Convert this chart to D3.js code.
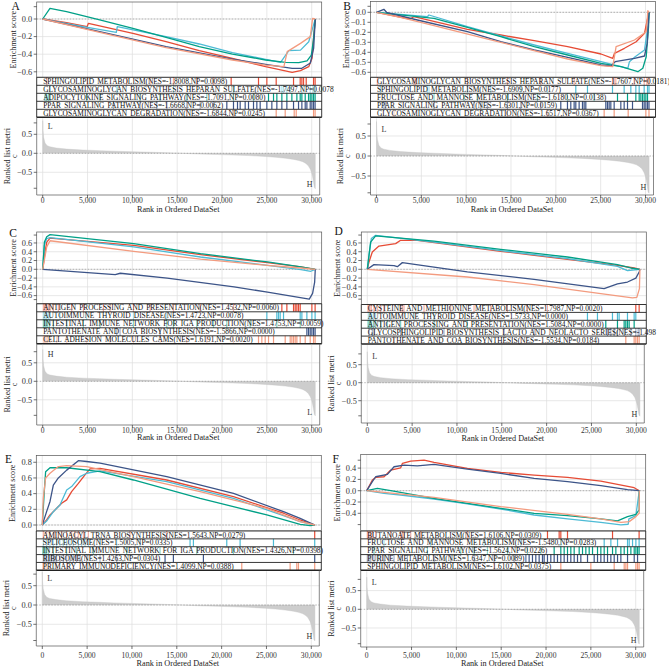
<!DOCTYPE html>
<html><head><meta charset="utf-8">
<script src="https://cdn.jsdelivr.net/npm/d3@7"></script>
<style>body{margin:0;background:#fff;}svg{display:block;}</style>
</head><body><svg id="c" width="669" height="668"></svg>
<script>
// ---------------- DATA ----------------
const seriesColors = ["#E64B35","#4DBBD5","#00A087","#3C5488","#F39B7F"];
const xTickValues = [0,5000,10000,15000,20000,25000,30000];
const xTickLabels = ["0","5,000","10,000","15,000","20,000","25,000","30,000"];
const rankedTickValues = [0.5,0,-0.5];
const rankedTickLabels = ["0.5","0.0","\u22120.5"];
const rankedExtraTicks = [0.8,-0.92];
// ranked list metric (rank, value)
const rankedMetric = [[0,0.86],[30,0.6],[100,0.42],[260,0.27],[500,0.2],[810,0.17],[1500,0.14],[2660,0.11],[4500,0.085],[6360,0.07],[8000,0.055],[10060,0.04],[12000,0.028],[13760,0.016],[15500,0.0],[17460,-0.02],[19500,-0.033],[21160,-0.045],[23000,-0.06],[24860,-0.085],[26000,-0.105],[27080,-0.13],[28000,-0.16],[28560,-0.19],[29000,-0.22],[29300,-0.26],[29600,-0.32],[29850,-0.42],[30000,-0.52],[30100,-0.62],[30200,-0.75],[30300,-0.9],[30400,-0.93]];

// Panel A
const termsA = ["SPHINGOLIPID METABOLISM(NES=-1.8008,NP=0.0098)","GLYCOSAMINOGLYCAN BIOSYNTHESIS HEPARAN SULFATE(NES=-1.7497,NP=0.0078)","ADIPOCYTOKINE SIGNALING PATHWAY(NES=-1.7091,NP=0.0080)","PPAR SIGNALING PATHWAY(NES=-1.6668,NP=0.0062)","GLYCOSAMINOGLYCAN DEGRADATION(NES=-1.6844,NP=0.0245)"];
const esTicksA = [0,-0.2,-0.4,-0.6];
const esExtraA = [0.14];
const esA = [
 [[0,0],[2660,-0.042],[4950,-0.087],[5100,-0.049],[10060,-0.163],[13760,-0.258],[17460,-0.36],[21160,-0.447],[24860,-0.542],[27820,-0.606],[28750,-0.587],[29670,-0.542],[30040,-0.447],[30190,-0.24],[30400,0]],
 [[0,0],[4510,-0.087],[8210,-0.152],[8320,-0.087],[13760,-0.2],[17460,-0.284],[21160,-0.383],[24860,-0.458],[26530,-0.492],[27450,-0.36],[28750,-0.354],[29670,-0.258],[30040,-0.125],[30400,0]],
 [[0,0],[810,0.121],[2660,0.083],[6360,-0.011],[10060,-0.106],[13760,-0.208],[17460,-0.314],[21160,-0.398],[24860,-0.466],[27080,-0.492],[28560,-0.496],[29480,-0.475],[29960,-0.41],[30190,-0.24],[30400,0]],
 [[0,0],[6360,-0.144],[13760,-0.314],[21160,-0.455],[24860,-0.515],[27820,-0.56],[28900,-0.56],[29850,-0.5],[30220,-0.33],[30400,0]],
 [[0,0],[6360,-0.152],[13760,-0.326],[21160,-0.466],[24860,-0.523],[26900,-0.542],[27270,-0.371],[28750,-0.277],[29850,-0.2],[30100,0.007],[30400,0]]
];
const hitsA = [
 [446,4985,9374,11978,14582,17186,19046,21018,24068,24998,26040,27974,28718,28904,29090,29388,30206,30380],
 [818,8258,8333,14582,21278,26672,26858,27230,27602,28904,29834,30132,30281,30380],
 [260,446,632,818,4910,6398,10862,13094,16070,18302,21278,23510,25184,25742,26114,26672,27230,27788,28346,28718,28904,29276,29648,29834,30020,30206,30380],
 [7886,10862,12722,13838,16070,17558,19046,20534,21278,21725,22022,22580,22952,23510,23882,24254,24998,25556,26114,26672,27230,27974,28532,28904,29276,29462,29834,30020,30206,30380],
 [2678,11978,16070,21278,26040,27044,28049,28272,30206,30380]
];

// Panel B
const termsB = ["GLYCOSAMINOGLYCAN BIOSYNTHESIS HEPARAN SULFATE(NES=-1.7607,NP=0.0181)","SPHINGOLIPID METABOLISM(NES=-1.6909,NP=0.0177)","FRUCTOSE AND MANNOSE METABOLISM(NES=-1.6180,NP=0.0138)","PPAR SIGNALING PATHWAY(NES=-1.6301,NP=0.0159)","GLYCOSAMINOGLYCAN DEGRADATION(NES=-1.6517,NP=0.0367)"];
const esTicksB = [0,-0.1,-0.2,-0.3,-0.4,-0.5,-0.6];
const esExtraB = [0.06];
const esB = [
 [[0,0],[3730,-0.067],[4170,-0.044],[10140,-0.17],[13860,-0.227],[17590,-0.284],[21320,-0.344],[25040,-0.417],[26350,-0.46],[26540,-0.41],[27650,-0.36],[28960,-0.294],[29890,-0.21],[30190,-0.077],[30400,0]],
 [[0,0],[5670,-0.044],[5850,-0.027],[10140,-0.144],[13860,-0.237],[17590,-0.327],[21320,-0.41],[25040,-0.494],[28030,-0.56],[28210,-0.494],[28770,-0.45],[29890,-0.377],[30260,-0.144],[30400,0]],
 [[0,0],[6410,-0.06],[10140,-0.15],[13860,-0.244],[17590,-0.344],[21320,-0.427],[25040,-0.51],[27280,-0.544],[29150,-0.594],[29700,-0.56],[30080,-0.444],[30340,-0.144],[30400,0]],
 [[0,0],[820,0.03],[1120,0.0],[4550,-0.077],[10140,-0.194],[13860,-0.294],[17590,-0.377],[21320,-0.45],[25040,-0.527],[26160,-0.537],[26610,-0.494],[28770,-0.46],[29890,-0.437],[30190,-0.31],[30400,0]],
 [[0,0],[2680,-0.05],[6410,-0.134],[13860,-0.3],[21320,-0.467],[25040,-0.534],[26350,-0.544],[26720,-0.344],[28770,-0.277],[30080,-0.194],[30260,0.016],[30400,0]]
];
const hitsB = [
 [93,4185,4371,10137,14601,18321,22041,26319,26505,26691,28737,29853,30151,30374],
 [465,5673,5859,10137,12741,16089,19065,22227,23529,26319,27621,28365,28923,29295,29853,30225,30390],
 [6417,9765,11253,14601,17949,21297,24273,26877,27993,28923,29295,29481,29667,29853,30039,30225],
 [837,1023,6417,10881,11625,12369,14601,16089,18321,20553,21297,21669,22041,22227,22599,22971,23157,23343,25575,25761,25947,26133,26505,27249,27621,27993,28551,29667,29853,30039,30225,30390],
 [1953,14601,19065,25389,26505,28068,30039,30390]
];

// Panel C
const termsC = ["ANTIGEN PROCESSING AND PRESENTATION(NES=1.4532,NP=0.0060)","AUTOIMMUNE THYROID DISEASE(NES=1.4723,NP=0.0078)","INTESTINAL IMMUNE NETWORK FOR IGA PRODUCTION(NES=1.4753,NP=0.0059)","PANTOTHENATE AND COA BIOSYNTHESIS(NES=-1.5866,NP=0.0000)","CELL ADHESION MOLECULES CAMS(NES=1.6191,NP=0.0020)"];
const esTicksC = [0.6,0.4,0.2,0,-0.2,-0.4,-0.6];
const esExtraC = [0.78,-0.69];
const esC = [
 [[0,0],[260,0.39],[450,0.62],[820,0.71],[10150,0.547],[17600,0.334],[25070,0.152],[28800,0.053],[30400,0]],
 [[0,0],[190,0.55],[450,0.70],[820,0.72],[10150,0.51],[17600,0.28],[25070,0.09],[28800,-0.008],[29900,-0.045],[30400,0]],
 [[0,0],[190,0.62],[450,0.74],[820,0.79],[10150,0.585],[17600,0.357],[25070,0.167],[28800,0.053],[30400,0]],
 [[0,0],[8090,-0.12],[8650,-0.09],[13880,-0.2],[21340,-0.4],[25070,-0.52],[29730,-0.68],[30100,-0.55],[30330,-0.29],[30400,0]],
 [[0,0],[75,0.09],[450,0.51],[820,0.65],[10150,0.41],[17600,0.23],[25070,0.09],[28800,0.03],[30400,0]]
];
const hitsC = [
 [74,149,260,372,446,632,818,1190,1748,3236,4538,6770,7514,10118,11978,14582,17558,21278,26672,27230,27974,28160,28346,28532,28718,30020,30380],
 [74,149,260,372,446,632,818,1934,4910,10118,13838,24998,26114,26300,26486,26858,28718,28904,29462,30020,30380],
 [74,149,223,335,446,558,744,1190,2678,4538,6398,10118,13838,14582,17186,19046,20534,23138,26114,28718],
 [8258,8630,13094,29462,29648,29834,30020,30206,30380],
 [74,186,298,446,558,818,1562,2678,4910,7514,10118,13094,16070,18302,21278,24068,24440,24812,25184,25742,27044,27602,27788,27974,28160,28346,28718,29276,29834,30206,30380]
];

// Panel D
const termsD = ["CYSTEINE AND METHIONINE METABOLISM(NES=1.7987,NP=0.0020)","AUTOIMMUNE THYROID DISEASE(NES=1.5733,NP=0.0000)","ANTIGEN PROCESSING AND PRESENTATION(NES=1.5084,NP=0.0000)","GLYCOSPHINGOLIPID BIOSYNTHESIS LACTO AND NEOLACTO SERIES(NES=-1.498","PANTOTHENATE AND COA BIOSYNTHESIS(NES=-1.5534,NP=0.0184)"];
const esTicksD = [0.6,0.4,0.2,0,-0.2,-0.4,-0.6];
const esExtraD = [0.78,-0.68];
const esD = [
 [[0,0],[190,0.167],[560,0.395],[1300,0.53],[3160,0.585],[3720,0.66],[5580,0.66],[14880,0.41],[22320,0.228],[27900,0.09],[29760,0.03],[30400,0]],
 [[0,0],[190,0.32],[450,0.70],[930,0.775],[7440,0.62],[14880,0.425],[22320,0.243],[27900,0.068],[29020,-0.03],[30400,0]],
 [[0,0],[370,0.62],[930,0.76],[7440,0.64],[14880,0.456],[22320,0.28],[27900,0.106],[29390,0.03],[30400,0]],
 [[0,0],[740,0.106],[2980,0.083],[3350,0.06],[3910,0.152],[11160,-0.06],[18600,-0.228],[26410,-0.44],[27900,-0.334],[29020,-0.29],[29950,-0.2],[30320,-0.06],[30400,0]],
 [[0,0],[11160,-0.175],[18600,-0.35],[26040,-0.554],[29570,-0.653],[30060,-0.64],[30350,-0.44],[30400,0]]
];
const hitsD = [
 [74,186,298,446,744,1116,1488,1860,3720,3906,4092,6324,9300,11904,13764,15624,17856,20088,29946,30318],
 [112,186,260,372,484,670,930,2604,5208,7440,24552,25668,27342,27900,28086,29016,29760,29946],
 [74,149,223,298,372,446,670,930,1488,2232,3720,7440,11160,26598,27900,28644,28830,29016,29202,29760],
 [186,558,744,3720,3906,8556,15252,18600,26784,27156,27528,27900,28644,29388,29946,30206,30318],
 [2976,5580,17112,28830,29760,29946,30132,30318]
];

// Panel E
const termsE = ["AMINOACYL TRNA BIOSYNTHESIS(NES=1.5643,NP=0.0279)","SPLICEOSOME(NES=1.5005,NP=0.0335)","INTESTINAL IMMUNE NETWORK FOR IGA PRODUCTION(NES=1.4326,NP=0.0398)","RIBOSOME(NES=1.4263,NP=0.0304)","PRIMARY IMMUNODEFICIENCY(NES=1.4099,NP=0.0388)"];
const esTicksE = [0.8,0.6,0.4,0.2,0];
const esExtraE = [];
const esE = [
 [[0,0],[480,0.064],[860,0.128],[1600,0.213],[2160,0.277],[2720,0.32],[3270,0.425],[4020,0.53],[4760,0.64],[5320,0.715],[6440,0.723],[13880,0.574],[21320,0.362],[26900,0.15],[28760,0.064],[30400,0]],
 [[0,0],[480,0.05],[1230,0.17],[1970,0.255],[2720,0.447],[3270,0.49],[4200,0.617],[4950,0.66],[6440,0.69],[13880,0.553],[21320,0.34],[26900,0.12],[28760,0.043],[30400,0]],
 [[0,0],[220,0.425],[370,0.68],[860,0.73],[2720,0.73],[6440,0.68],[10160,0.574],[17600,0.34],[25040,0.128],[28760,0.009],[29870,-0.009],[30400,0]],
 [[0,0],[480,0.17],[860,0.30],[1230,0.51],[1790,0.60],[2720,0.70],[4020,0.82],[4950,0.81],[6440,0.79],[13880,0.617],[21320,0.404],[26900,0.17],[28760,0.085],[30400,0]],
 [[0,0],[110,0.34],[370,0.6],[860,0.66],[1790,0.745],[2720,0.757],[4950,0.745],[10160,0.617],[17600,0.425],[25040,0.213],[28760,0.043],[30400,0]]
];
const hitsE = [
 [112,484,856,1414,1786,2158,2716,3274,3646,4018,4576,5134,9784,13876,30380],
 [112,484,856,1228,1600,1972,2344,2716,3088,3460,4018,4390,4762,5134,6436,8296,10900,16480,16852,20572,22060,25780,30380],
 [37,112,186,260,335,484,670,1228,2716,3832,5692,9412,13132,17224,21316,28012],
 [112,298,484,670,856,1042,1228,1414,1600,1972,2344,2716,3088,3460,3832,4204,4948,6436,8296,13690,14620,17968,30380],
 [37,112,186,298,484,856,1600,2716,4948,7552,22246,27640,28384,28570,30380]
];

// Panel F
const termsF = ["BUTANOATE METABOLISM(NES=1.6106,NP=0.0309)","FRUCTOSE AND MANNOSE METABOLISM(NES=-1.5480,NP=0.0283)","PPAR SIGNALING PATHWAY(NES=-1.5624,NP=0.0226)","PURINE METABOLISM(NES=1.6347,NP=0.0089)","SPHINGOLIPID METABOLISM(NES=-1.6102,NP=0.0375)"];
const esTicksF = [0.4,0.2,0,-0.2,-0.4];
const esExtraF = [0.54,-0.6];
const esF = [
 [[0,0],[630,0.188],[1000,0.235],[1930,0.247],[2680,0.365],[3790,0.406],[3980,0.482],[4910,0.524],[6400,0.541],[7510,0.5],[11230,0.394],[14950,0.324],[18670,0.276],[22400,0.235],[26110,0.17],[29830,0.053],[30400,0]],
 [[0,0],[1930,-0.047],[3790,-0.076],[7510,-0.147],[11230,-0.235],[14950,-0.324],[18670,-0.43],[22400,-0.5],[26110,-0.559],[28350,-0.606],[29160,-0.594],[29240,-0.5],[30020,-0.441],[30400,0]],
 [[0,0],[1190,0.041],[2680,0],[7510,-0.135],[11230,-0.224],[14950,-0.312],[18670,-0.4],[22400,-0.441],[26110,-0.5],[27970,-0.535],[29090,-0.459],[30020,-0.418],[30390,-0.341],[30400,0]],
 [[0,0],[630,0.159],[1000,0.247],[2310,0.288],[3050,0.424],[4170,0.453],[5650,0.441],[7510,0.465],[11230,0.382],[14950,0.306],[18670,0.218],[22400,0.159],[26110,0.088],[29090,0.018],[30400,0]],
 [[0,0],[7510,-0.118],[14950,-0.282],[22400,-0.418],[26110,-0.5],[28350,-0.559],[29280,-0.547],[30020,-0.459],[30390,-0.4],[30400,0]]
];
const hitsF = [
 [74,260,446,632,1004,2678,3794,3980,4166,4910,6026,11234,20162,21464,21650,22394,27416,30380],
 [1934,7142,13094,17186,21650,23882,26486,27230,27974,29090,29276,29648,30020,30380],
 [818,6770,10490,11978,13466,15698,17930,19418,20906,21650,22022,22394,22766,23138,23696,24068,24440,24812,25184,25742,26114,26486,26858,27416,27788,28346,28718,29090,29462,29834,30020,30206,30380],
 [74,260,446,818,1190,1562,1934,2492,3050,3794,4538,5654,7514,9374,11978,14210,16442,17744,18116,18488,18860,19232,19604,19790,20162,20534,20906,21278,21650,22022,22394,22766,23138,23510,23882,24626,25370,25742,26114,26486,26858,27230,27602,27974,28346,29090,29834,30206],
 [1934,8630,14210,17186,21650,24998,27602,28718,28904,29090,30020,30206,30380]
];

// ---------------- LAYOUT ----------------
const layout = {
 A:{x0:42.7, lblX:11.5, lblY:10.3, esTop:2, esBot:77.3, rowsBot:117.3, rkBot:195, esZero:19, esUnit:88, rkZero:153.3, rkUnit:38, tickY:203, titleY:211.5, clip:[0,0,334,222], top:"L", bot:"H"},
 B:{x0:376.5, lblX:343.3, lblY:9.6, esTop:1.5, esBot:77.3, rowsBot:117.3, rkBot:195, esZero:12.3, esUnit:100, rkZero:156, rkUnit:40, tickY:203, titleY:211.5, clip:[334,0,669,222], top:"L", bot:"H"},
 C:{x0:42.7, lblX:9.3, lblY:237, esTop:232, esBot:303.8, rowsBot:343.8, rkBot:425, esZero:269.3, esUnit:43.9, rkZero:381.3, rkUnit:37, tickY:432.5, titleY:440, clip:[0,222,326,445], top:"H", bot:"L"},
 D:{x0:367.3, lblX:334.5, lblY:234.5, esTop:232, esBot:304.5, rowsBot:344, rkBot:423, esZero:269.3, esUnit:43.9, rkZero:382.7, rkUnit:36, tickY:432.5, titleY:440.5, clip:[326,222,669,445], top:"L", bot:"H"},
 E:{x0:42.3, lblX:5, lblY:463, esTop:455.5, esBot:531, rowsBot:570.3, rkBot:646, esZero:525, esUnit:78.4, rkZero:605, rkUnit:38.6, tickY:657.5, titleY:666, clip:[0,445,326,668], top:"L", bot:"H"},
 F:{x0:366.7, lblX:332.5, lblY:463, esTop:454.5, esBot:531, rowsBot:570.3, rkBot:647, esZero:490.7, esUnit:56.5, rkZero:609.3, rkUnit:37.4, tickY:657.5, titleY:666, clip:[326,445,669,668], top:"L", bot:"H"}
};
const panels = [
 {id:"A", terms:termsA, es:esA, hits:hitsA, ticks:esTicksA, extra:esExtraA},
 {id:"B", terms:termsB, es:esB, hits:hitsB, ticks:esTicksB, extra:esExtraB},
 {id:"C", terms:termsC, es:esC, hits:hitsC, ticks:esTicksC, extra:esExtraC},
 {id:"D", terms:termsD, es:esD, hits:hitsD, ticks:esTicksD, extra:esExtraD},
 {id:"E", terms:termsE, es:esE, hits:hitsE, ticks:esTicksE, extra:esExtraE},
 {id:"F", terms:termsF, es:esF, hits:hitsF, ticks:esTicksF, extra:esExtraF}
];

// ---------------- DRAW ----------------
const FONT = '"Liberation Serif","Times New Roman",Times,serif';
const svg = d3.select("#c").style("font-family", FONT);
svg.append("rect").attr("width",669).attr("height",668).attr("fill","#fff");
const defs = svg.append("defs");
const GRID = "#dedede", AXIS = "#333";
const fmt = d3.format(".1f");

panels.forEach(p => {
  const L = layout[p.id];
  const [cx0, cy0, cx1, cy1] = L.clip;
  defs.append("clipPath").attr("id","clip"+p.id).append("rect")
    .attr("x",cx0).attr("y",cy0).attr("width",cx1-cx0).attr("height",cy1-cy0);
  const g = svg.append("g").attr("clip-path",`url(#clip${p.id})`);

  const x = d3.scaleLinear().domain([0,30000]).range([L.x0, L.x0+269]);
  const left = L.x0-6, right = L.x0+279, rkRight = L.x0+277;
  const yES = d3.scaleLinear().domain([0,1]).range([L.esZero, L.esZero-L.esUnit]);
  const yRk = d3.scaleLinear().domain([0,1]).range([L.rkZero, L.rkZero-L.rkUnit]);

  // ---- ES panel ----
  const es = g.append("g");
  es.selectAll(".vg").data(xTickValues).join("line")
    .attr("x1",d=>x(d)).attr("x2",d=>x(d)).attr("y1",L.esTop).attr("y2",L.esBot)
    .attr("stroke",GRID).attr("stroke-width",0.7);
  es.selectAll(".hg").data(p.ticks).join("line")
    .attr("x1",left).attr("x2",right).attr("y1",d=>yES(d)).attr("y2",d=>yES(d))
    .attr("stroke",GRID).attr("stroke-width",0.7);
  es.append("line").attr("x1",left).attr("x2",right).attr("y1",yES(0)).attr("y2",yES(0))
    .attr("stroke","#8a8a8a").attr("stroke-width",0.6).attr("stroke-dasharray","1.5,1.5");
  const line = d3.line().x(d=>x(d[0])).y(d=>yES(d[1]));
  p.es.forEach((curve,i) => {
    es.append("path").attr("d",line(curve)).attr("fill","none")
      .attr("stroke",seriesColors[i]).attr("stroke-width",1.3).attr("stroke-linejoin","round");
  });
  es.append("rect").attr("x",left).attr("y",L.esTop).attr("width",right-left).attr("height",L.esBot-L.esTop)
    .attr("fill","none").attr("stroke","#555").attr("stroke-width",0.7);
  const allT = p.ticks.concat(p.extra);
  es.selectAll(".yt").data(allT).join("line")
    .attr("x1",left-3).attr("x2",left).attr("y1",d=>yES(d)).attr("y2",d=>yES(d))
    .attr("stroke",AXIS).attr("stroke-width",0.7);
  es.selectAll(".yl").data(p.ticks).join("text")
    .attr("x",left-4.5).attr("y",d=>yES(d)).attr("dy","0.34em").attr("text-anchor","end")
    .attr("font-size",8.3).attr("fill","#333").text(d=>fmt(d));

  // ---- rows ----
  const rowH = (L.rowsBot - L.esBot)/5;
  p.terms.forEach((term,i) => {
    const ry = L.esBot + i*rowH;
    const rg = g.append("g");
    rg.append("rect").attr("x",left).attr("y",ry).attr("width",right-left).attr("height",rowH).attr("fill","#fff");
    rg.selectAll(".hit").data(p.hits[i]).join("line")
      .attr("x1",d=>x(d)).attr("x2",d=>x(d)).attr("y1",ry).attr("y2",ry+rowH)
      .attr("stroke",seriesColors[i]).attr("stroke-width",1.2);
    const bg = rg.append("rect").attr("y",ry+0.3).attr("height",rowH-0.6).attr("fill","#fff").attr("opacity",0.55);
    const t = rg.append("text").attr("x",L.x0+0.5).attr("y",ry+rowH/2+2.6)
      .attr("font-size",7.4).attr("word-spacing",1.3).attr("fill","#111").text(term);
    const w = t.node().getComputedTextLength();
    bg.attr("x",L.x0-0.5).attr("width",w+2);
  });
  const rb = g.append("g");
  for (let i=0;i<=5;i++){
    const yy = L.esBot + i*rowH;
    rb.append("line").attr("x1",left).attr("x2",right).attr("y1",yy).attr("y2",yy)
      .attr("stroke","#222").attr("stroke-width", i===5?1.5:0.9);
  }
  rb.append("line").attr("x1",left).attr("x2",left).attr("y1",L.esBot).attr("y2",L.rowsBot).attr("stroke","#222").attr("stroke-width",0.9);
  rb.append("line").attr("x1",right).attr("x2",right).attr("y1",L.esBot).attr("y2",L.rowsBot).attr("stroke","#222").attr("stroke-width",0.9);

  // ---- ranked list ----
  const rk = g.append("g");
  rk.selectAll(".vg").data(xTickValues).join("line")
    .attr("x1",d=>x(d)).attr("x2",d=>x(d)).attr("y1",L.rowsBot+1).attr("y2",L.rkBot)
    .attr("stroke",GRID).attr("stroke-width",0.7);
  rk.selectAll(".hg").data([0.5,-0.5]).join("line")
    .attr("x1",left).attr("x2",rkRight).attr("y1",d=>yRk(d)).attr("y2",d=>yRk(d))
    .attr("stroke",GRID).attr("stroke-width",0.7);
  const area = d3.area().x(d=>x(d[0])).y0(yRk(0)).y1(d=>yRk(d[1]));
  rk.append("path").attr("d",area(rankedMetric)).attr("fill","#cdcdcd").attr("stroke","#c4c4c4").attr("stroke-width",0.4);
  rk.append("line").attr("x1",left).attr("x2",rkRight).attr("y1",yRk(0)).attr("y2",yRk(0))
    .attr("stroke","#8a8a8a").attr("stroke-width",0.6).attr("stroke-dasharray","1.5,1.5");
  rk.append("line").attr("x1",left).attr("x2",left).attr("y1",L.rowsBot).attr("y2",L.rkBot).attr("stroke","#555").attr("stroke-width",0.7);
  rk.append("line").attr("x1",rkRight).attr("x2",rkRight).attr("y1",L.rowsBot).attr("y2",L.rkBot).attr("stroke","#555").attr("stroke-width",0.7);
  rk.append("line").attr("x1",left).attr("x2",rkRight).attr("y1",L.rkBot).attr("y2",L.rkBot).attr("stroke","#555").attr("stroke-width",0.7);
  rk.selectAll(".yt").data(rankedTickValues.concat(rankedExtraTicks)).join("line")
    .attr("x1",left-3).attr("x2",left).attr("y1",d=>yRk(d)).attr("y2",d=>yRk(d))
    .attr("stroke",AXIS).attr("stroke-width",0.7);
  rk.selectAll(".yl").data(rankedTickValues).join("text")
    .attr("x",left-4.5).attr("y",d=>yRk(d)).attr("dy","0.34em").attr("text-anchor","end")
    .attr("font-size",8.3).attr("fill","#333").text((d,i)=>rankedTickLabels[i]);
  rk.selectAll(".xt").data(xTickValues).join("line")
    .attr("x1",d=>x(d)).attr("x2",d=>x(d)).attr("y1",L.rkBot).attr("y2",L.rkBot+3)
    .attr("stroke",AXIS).attr("stroke-width",0.7);
  rk.selectAll(".xl").data(xTickValues).join("text")
    .attr("x",d=>x(d)).attr("y",L.tickY).attr("text-anchor","middle")
    .attr("font-size",7.6).attr("fill","#333").text((d,i)=>xTickLabels[i]);
  rk.append("text").attr("x",L.x0+5).attr("y",L.rkZero-27+2.8).attr("font-size",8).attr("fill","#333").text(L.top);
  rk.append("text").attr("x",L.x0+267).attr("y",L.rkZero+31+2.8).attr("text-anchor","middle").attr("font-size",8).attr("fill","#333").text(L.bot);

  // ---- titles ----
  g.append("text").attr("x",(left+rkRight)/2).attr("y",L.titleY).attr("text-anchor","middle")
    .attr("font-size",8.2).attr("fill","#222").text("Rank in Ordered DataSet");
  g.append("text").attr("transform",`translate(${L.x0-27.2},${(L.esTop+L.esBot)/2}) rotate(-90)`)
    .attr("text-anchor","middle").attr("font-size",8.2).attr("fill","#222").text("Enrichment score");
  const rmid = (L.rowsBot+L.rkBot)/2;
  g.append("text").attr("transform",`translate(${L.x0-33.2},${rmid}) rotate(-90)`)
    .attr("text-anchor","middle").attr("font-size",8.2).attr("fill","#222").text("Ranked list metri");
  g.append("text").attr("transform",`translate(${L.x0-26.2},${rmid}) rotate(-90)`)
    .attr("text-anchor","middle").attr("font-size",8.2).attr("fill","#222").text("c");
  g.append("text").attr("x",L.lblX).attr("y",L.lblY).attr("font-size",11.5).attr("fill","#111").text(p.id);
});
</script></body></html>
